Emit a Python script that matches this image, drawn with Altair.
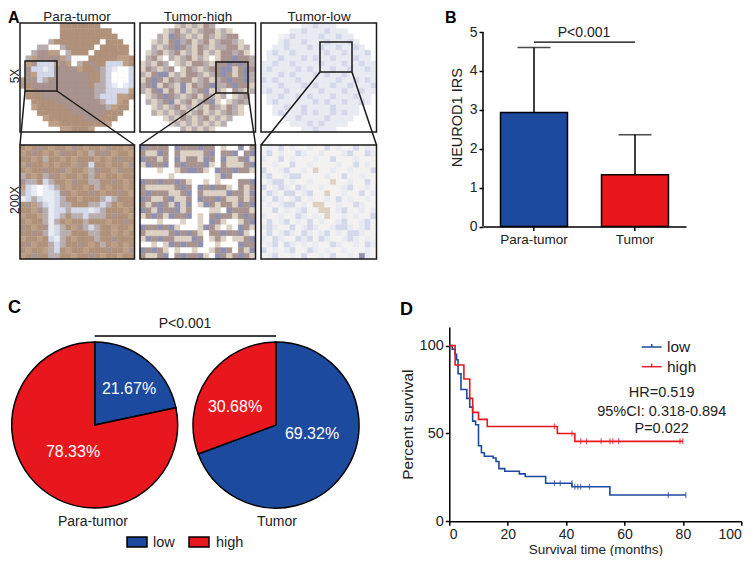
import math
import pandas as pd
import altair as alt

BLUE = "#1c4a9e"
RED = "#e8171d"
INK = "#222222"

# --- panel B
B_GROUPS = ["Para-tumor", "Tumor"]
B_MEANS = [2.93, 1.33]
B_UPPER = [4.6, 2.36]
B_TICKS = [0, 1, 2, 3, 4, 5]

# --- panel C
C_GROUPS = ["Para-tumor", "Para-tumor", "Tumor", "Tumor"]
C_LEVELS = ["low", "high", "low", "high"]
C_SHARES = [21.67, 78.33, 69.32, 30.68]

# --- panel D, Kaplan-Meier steps
LOW_T = [0, 1, 2, 2.5, 3, 4, 6, 7, 8, 9, 10, 11, 12, 15, 16, 17, 19, 24, 26, 33, 42, 55, 81]
LOW_S = [100, 98, 95, 92, 84, 75, 70, 65, 57, 55, 43, 39, 37, 36, 34, 30, 28.5, 27, 25.5, 21.7, 19.7, 15, 15]
HIGH_T = [0, 2, 5, 7, 8, 10, 13, 37, 43, 80]
HIGH_S = [100, 89, 81, 70, 62, 58, 54, 50, 45.5, 45.5]
LOW_CENS_T = [36, 38, 42, 43, 44, 45, 48, 75, 81]
LOW_CENS_S = [21.7, 21.7, 21.7, 19.7, 19.7, 19.7, 19.7, 15, 15]
HIGH_CENS_T = [36, 42, 45, 47, 52, 55, 56, 58, 79, 80]
HIGH_CENS_S = [54, 50, 45.5, 45.5, 45.5, 45.5, 45.5, 45.5, 45.5, 45.5]

# --- panel A, coarse hand-read colour mosaics of the micrographs
PALETTE = {
    ".": "#ffffff", "w": "#f4f2f0", "b": "#b0917a", "d": "#bd9f85", "m": "#a8938f",
    "v": "#8f90b0", "p": "#d3d8ea", "q": "#e9ebf3", "t": "#dcd1c3", "g": "#b8aeb0",
}
TILE_1 = ["______.bbbbbbb______", "_____..bbbbbbbbb____", "____...bbbbbbbbbb___", "___..gbbbbbbbb.bbb__",
          "__.gg..gbbbbb.bbbbb_", "__gmmdd.gbbb.bbbbbb_", "_gdmmmmdg...bbbbbddb", "_dmpppdmd.gbmbbpppdb",
          "_mppqpmmmmdbbmgpq..p", "_mdpppmmmmmmbbgp...p", "dmmpgmmmmmmmbbgp...p", "dbmmmmmmmmmmbggpq.qp",
          "_bbmmmmmmmmmmggppppd", "_bbbmmmmmmmmmgpppddb", "__bbbbmmmmmmmmgppdb_", "__dbbbbbmmmmmmmgdbb_",
          "___bbbbbbmmmmmmbbb__", "____dbbbbbbmmmbbb___", "_____ddbbbbbbbbd____", "_______ddbbbd_______"]
TILE_2 = ["______tgtgtmg_______", "____tgmtgtgmmtgt____", "___gtvmgtgtmgtgmm___", "__tgtmvgmtgmtgmmgt__",
          "__gtgmvmgtmgtggmmtg_", "_tgmtgmtgtmtgtmmgmt_", "_gmt.gtgmtgt.tmmvmmg", "tgtmg.tgtmmgtmmvmvmg",
          "tmgtgm.tmgtgmmvvtmvm", "gtmvvtgtmmgtgmvmtmvg", "tmvmtmgmmtgmtgmvmmvg", "gmvtmgtvtmgmvggmvmmt",
          "gtmvtmtvtgmvtgt.mgtg", "_tgmvmgtgmtmgtg.tgm_", "_gtgmvtgmtgmvt.tgmg_", "__tgtgmtgtgtmgtmgt__",
          "__gtgtgmtgmtgtgmgt__", "____tgtmgtgmtgtg____", "_____tgtgtgtgtg_____", "_______gtgtgt_______"]
TILE_3 = ["_______qqpqqq_______", "_____qqpqqqpqqq_____", "___wqpqqqqpqqpqq____", "___qpqqpqqqpqqqpq___",
          "__qqpqqqpqpqqpqqpq__", "_qpqqpqqqqqpqqpqqqp_", "_qqpqqqpqpqqpqqqpqq_", "qqpqqpqqqqpqqqpqqpqq",
          "qpqqqqpqpqqqpqqpqqpq", "qqqpqpqqqpqpqqpqqqqq", "pqpqqqpqqqqqqpqqpqpq", "qqqpqqqpqpqqpqqpqqqp",
          "qpqqpqqqqqpqqqpqqpqq", "_qqpqqpqpqqqpqqqpqq_", "_qpqqqqqqpqpqqpqqpq_", "__qqpqqpqqqqpqqqq___",
          "__qpqqqpqpqqpqpqq___", "____qqpqqqqpqqqq____", "_____qqqpqpqqqq_____", "_______qqpqqq_______"]
TILE_4 = ["bdbmbdbbdmbdbbdmbbdb", "dbmbdbdmbbdbgbmbdbbd", "bbdbgbbdbdbbbdbdbmbb", "dmbbdbdbbdmbpbbdbbdm",
          "bdbbmbbmdbbdgmbbdmbb", "gbdbgmbdbbdbgbdbbdbb", "mggbpgbbdmbbggbbmbdb", "dpq.qpgbdbbdbgbdbbdb",
          "gpq.qqpmbdbbmbdbbmbd", "qpgpqqpgbbdbbbgpgbbb", "bmdgpqpggbbbggpgbdbb", "bbdmgqppgpppqpgbbbdb",
          "dbbdgqpgbggpgggbmbbd", "bdbbgqgbdbbgbbbdbbmb", "mbdbmqpgbdmgpgbbdbbd", "bbmbgqpggbbbggbbdbdb",
          "dbbdbpqgbdbbbgbbmbbb", "bmdbbgpgbbmbdbgbdbdb", "bdbbdgpbdbbdbbbmbbdm", "dbmbbggbbdbbmbdbbdbb"]
TILE_5 = ["vmmmm.vmmmvmm.t..v.m", "mttvm.mttttmv.mmv.mv", "vmmtm.vtmmtvm.vttmvt", "tvmmv.mvmmmvt.mtttmv",
          "...t..tmvvmt.vmmvmmt", ".....t.......tvm....", "vmmvmmvmt..t.t...mmv", "mtttttmvm.vmvmmt.mtm",
          "mvmmmttmv.mttttvmmtv", "vmttmvttm.vmmvmttmtm", "mtmvmtvtv.tvmtmmtvmv", "vmtvmmvtm...tt.vmmmt",
          "tmvmtvmmv.t.mvmmtmvm", "...t...t..t.vmt..tmv", "vmmvmvt...tvmt.t.vmt", "mttttmvmvmt.mmvmmvt.",
          "tvmvmmtttvm.tmt.ttmv", "..t.tvmvmmv..t...vmm", "vmvmt.t..t..tmvm.mtv", "mttmv.mvmmvt.vmtmvmt"]
TILE_6 = ["wqwpwqwwqwwpwqwwpwqw", "wpwqwwpqwwqwwwqpwwpq", "qwwpwqwwwqwwpwwwqwww", "wwqwwpwwqwwwwqwwpwqw",
          "pwwqpwwqwtwwqwwqwwwp", "qpwwqppwwwwqwwpwwqww", "wqppwqwwqwwwtwwqwwpw", "pwqpqwpqwwqwwwqpwwqw",
          "wpqwppwqpwwtwwqwwpwq", "qwpqwqpwqwwqwpwqwwqw", "wqwqppwqwttwwqwwpqww", "wwpwqwqpwwttwqpwwqwq",
          "qwwqwwpqwqwtwwqwqwwp", "wpwqpwqwpwqwwqpwwqpw", "qpqwwpwqpqwwqppqwqpw", "wpwqpqwpqwqpwqwppqww",
          "qwpqwwpqpwpqwwqpqwqw", "wqpwpqwqwqwwpqwwqwpq", "pwqwqpwwpqwqwwqwwwqw", "wqpwwqwpwwqwpwwqwvqw"]
TILES = [TILE_1, TILE_2, TILE_3, TILE_4, TILE_5, TILE_6]
TILE_COLS = [(20, 134.5), (140, 255.5), (261, 376.5)]
TILE_ROWS = [(23, 132), (145, 259)]
DISC_X = [79, 197.5, 318.5]
DISC_Y = [77.5, 77.5, 77.5]
DISC_R = 53
DISC_COLORS = ["d", "t", "q"]
INSET_X = [(25, 57), (216, 248), (320, 352)]
INSET_Y = [(61, 91), (62, 93), (42, 72)]


def note(text, px, py, origin, size=14, color=INK, align="center", weight="normal", angle=0):
    """Text at a page position, given the page position of the view's top left corner."""
    return alt.Chart(pd.DataFrame({"label": [text]})).mark_text(
        fontSize=size, color=color, align=align, baseline="alphabetic", fontWeight=weight, angle=angle
    ).encode(text="label:N", x=alt.value(px - origin[0]), y=alt.value(py - origin[1]))


def key_box(x0, x1, y0, y1, origin, color):
    return alt.Chart(pd.DataFrame({"k": [0]})).mark_rect(fill=color, stroke="black", strokeWidth=1.5).encode(
        x=alt.value(x0 - origin[0]), x2=alt.value(x1 - origin[0]),
        y=alt.value(y0 - origin[1]), y2=alt.value(y1 - origin[1]),
    )


def key_line(x0, x1, y0, y1, origin, color):
    return alt.Chart(pd.DataFrame({"k": [0]})).mark_rule(color=color, strokeWidth=1.5).encode(
        x=alt.value(x0 - origin[0]), x2=alt.value(x1 - origin[0]),
        y=alt.value(y0 - origin[1]), y2=alt.value(y1 - origin[1]),
    )


# ---------- A
A_ORIGIN = (8, 8)
A_W, A_H = 377, 254
ax = alt.Scale(domain=[8, 8 + A_W])
ay = alt.Scale(domain=[8 + A_H, 8])
cells = []
for t, rows in enumerate(TILES):
    x0, x1 = TILE_COLS[t % 3]
    y0, y1 = TILE_ROWS[t // 3]
    ch = (y1 - y0) / len(rows)
    cw = (x1 - x0) / len(rows[0])
    for j, row in enumerate(rows):
        for i, c in enumerate(row):
            if c != "_":
                cells.append(dict(x0=x0 + i * cw, x1=x0 + (i + 1) * cw, y0=y0 + j * ch, y1=y0 + (j + 1) * ch, c=c))
cells = pd.DataFrame(cells)
tone = alt.Scale(domain=list(PALETTE.keys()), range=list(PALETTE.values()))

discs = alt.Chart(pd.DataFrame({"x": DISC_X, "y": DISC_Y, "c": DISC_COLORS})).mark_circle(
    opacity=1, size=math.pi * DISC_R ** 2
).encode(
    x=alt.X("x:Q", scale=ax, axis=None), y=alt.Y("y:Q", scale=ay, axis=None),
    color=alt.Color("c:N", scale=tone, legend=None),
)
mosaic = alt.Chart(cells).mark_rect(strokeWidth=0.4).encode(
    x=alt.X("x0:Q", scale=ax, axis=None), x2="x1:Q",
    y=alt.Y("y0:Q", scale=ay, axis=None), y2="y1:Q",
    color=alt.Color("c:N", scale=tone, legend=None),
    stroke=alt.Stroke("c:N", scale=tone, legend=None),
)
frames = pd.DataFrame(
    [dict(x0=c[0], x1=c[1], y0=r[0], y1=r[1]) for r in TILE_ROWS for c in TILE_COLS]
    + [dict(x0=a[0], x1=a[1], y0=b[0], y1=b[1]) for a, b in zip(INSET_X, INSET_Y)]
)
frame_marks = alt.Chart(frames).mark_rect(filled=False, stroke="#1a1a1a", strokeWidth=1.5).encode(
    x=alt.X("x0:Q", scale=ax, axis=None), x2="x1:Q",
    y=alt.Y("y0:Q", scale=ay, axis=None), y2="y1:Q",
)
links = []
for k in range(3):
    for side in (0, 1):
        links.append(dict(x0=INSET_X[k][side], y0=INSET_Y[k][1],
                          x1=TILE_COLS[k][side], y1=TILE_ROWS[1][0]))
link_marks = alt.Chart(pd.DataFrame(links)).mark_rule(stroke="#1a1a1a", strokeWidth=1.5).encode(
    x=alt.X("x0:Q", scale=ax, axis=None), x2="x1:Q",
    y=alt.Y("y0:Q", scale=ay, axis=None), y2="y1:Q",
)
panel_a = alt.layer(
    discs, mosaic, link_marks, frame_marks,
    note("A", 8, 22.5, A_ORIGIN, size=16, color="black", align="left", weight="bold"),
    note("Para-tumor", 77, 20.5, A_ORIGIN, size=13.5),
    note("Tumor-high", 198, 20.5, A_ORIGIN, size=13.5),
    note("Tumor-low", 319, 20.5, A_ORIGIN, size=13.5),
    note("5X", 19, 76, A_ORIGIN, size=12, angle=270),
    note("200X", 19, 200, A_ORIGIN, size=12, angle=270),
).resolve_scale(color="independent", stroke="independent").properties(width=A_W, height=A_H)

# ---------- B, shares its left edge with D, so the axis sits inside the view
B_ORIGIN = (449.3, 8)
B_AXIS_X = 483 - 449.3
B_W, B_H = 292, 218.5
b_df = pd.DataFrame({"group": B_GROUPS, "mean": B_MEANS, "upper": B_UPPER})
bx = alt.X("group:N", sort=B_GROUPS, title=None,
           scale=alt.Scale(paddingInner=0.337, paddingOuter=0.1735, range=[B_AXIS_X, B_AXIS_X + 203]),
           axis=alt.Axis(labelAngle=0, labelFontSize=13.5, labelPadding=2, tickSize=4))
by = alt.Scale(domain=[0, 5 * B_H / 194.5], nice=False)
bars = alt.Chart(b_df).mark_bar(stroke="black", strokeWidth=1.5).encode(
    x=bx,
    y=alt.Y("mean:Q", scale=by, title="NEUROD1 IRS",
            axis=alt.Axis(values=B_TICKS, domain=False, labelFontSize=14, tickSize=4, titleFontSize=14.5,
                          titleFontWeight="normal", titlePadding=5, offset=-B_AXIS_X)),
    color=alt.Color("group:N", scale=alt.Scale(domain=B_GROUPS, range=[BLUE, RED]), legend=None),
)
stems = alt.Chart(b_df).mark_rule(color="black", strokeWidth=1.5).encode(x=bx, y=alt.Y("mean:Q", scale=by), y2="upper:Q")
caps = alt.Chart(b_df).mark_tick(color="black", size=33, thickness=1.5).encode(x=bx, y=alt.Y("upper:Q", scale=by))
y_line = alt.Chart(pd.DataFrame({"a": [0], "b": [5]})).mark_rule(color="black", strokeWidth=1.5).encode(
    x=alt.value(B_AXIS_X), y=alt.Y("a:Q", scale=by), y2="b:Q"
)
sig = alt.Chart(pd.DataFrame({"group": B_GROUPS, "level": [4.74, 4.74]})).mark_line(color="black", strokeWidth=1.2).encode(
    x=bx, y=alt.Y("level:Q", scale=by)
)
panel_b = alt.layer(
    stems, caps, bars, y_line, sig,
    note("P<0.001", 584, 37, B_ORIGIN, size=14),
    note("B", 445, 22.5, B_ORIGIN, size=16, color="black", align="left", weight="bold"),
).properties(width=B_W, height=B_H)

# ---------- C
C_ORIGIN = (8, 327)
PIE_Y = 425 - 327
c_df = pd.DataFrame({"group": C_GROUPS, "level": C_LEVELS, "share": C_SHARES,
                     "rank": [0, 1, 0, 1]})
level_color = alt.Scale(domain=["low", "high"], range=[BLUE, RED])


def pie(group, cx):
    return alt.Chart(c_df[c_df["group"] == group]).mark_arc(
        outerRadius=83, stroke="black", strokeWidth=1.5
    ).encode(
        theta=alt.Theta("share:Q", stack=True, scale=alt.Scale(domain=[0, 100])),
        order=alt.Order("rank:Q"),
        color=alt.Color("level:N", scale=level_color, legend=None),
        x=alt.value(cx), y=alt.value(PIE_Y),
    )


panel_c = alt.layer(
    pie("Para-tumor", 94.7 - 8),
    pie("Tumor", 276 - 8),
    key_line(94.7, 276, 336, 336, C_ORIGIN, "black"),
    note("P<0.001", 185, 328, C_ORIGIN),
    note("21.67%", 129, 394, C_ORIGIN, size=16, color="white"),
    note("78.33%", 73, 457, C_ORIGIN, size=16, color="white"),
    note("30.68%", 235, 412, C_ORIGIN, size=16, color="white"),
    note("69.32%", 312, 439, C_ORIGIN, size=16, color="white"),
    note("Para-tumor", 93, 526, C_ORIGIN),
    note("Tumor", 277, 526, C_ORIGIN),
    key_box(127, 147, 537, 547, C_ORIGIN, BLUE),
    key_box(189, 209, 537, 547, C_ORIGIN, RED),
    note("low", 153, 547, C_ORIGIN, size=14.5, align="left"),
    note("high", 216, 547, C_ORIGIN, size=14.5, align="left"),
    note("C", 8, 313, C_ORIGIN, size=18, color="black", align="left", weight="bold"),
).properties(width=377, height=194)

# ---------- D
D_ORIGIN = (449.3, 327)
curves = pd.concat([
    pd.DataFrame({"t": LOW_T, "s": LOW_S, "arm": "low"}),
    pd.DataFrame({"t": HIGH_T, "s": HIGH_S, "arm": "high"}),
])
marks = pd.concat([
    pd.DataFrame({"t": LOW_CENS_T, "s": LOW_CENS_S, "arm": "low"}),
    pd.DataFrame({"t": HIGH_CENS_T, "s": HIGH_CENS_S, "arm": "high"}),
])
D_RED = "#e8202a"
arm_color = alt.Scale(domain=["low", "high"], range=[BLUE, D_RED])
dx = alt.X("t:Q", scale=alt.Scale(domain=[0, 100], nice=False), title="Survival time (months)",
           axis=alt.Axis(values=[0, 20, 40, 60, 80, 100], labelFontSize=14, tickSize=4, labelPadding=2,
                         titleFontSize=13.5, titleFontWeight="normal", titlePadding=1))
dy = alt.Y("s:Q", scale=alt.Scale(domain=[0, 110.6], nice=False), title="Percent survival",
           axis=alt.Axis(values=[0, 50, 100], labelFontSize=14.5, tickSize=4, titleFontSize=15.5,
                         titleFontWeight="normal", titlePadding=4))
d_lines = alt.Chart(curves).mark_line(interpolate="step-after", strokeWidth=1.6).encode(
    x=dx, y=dy, color=alt.Color("arm:N", scale=arm_color, legend=None),
)
d_marks = alt.Chart(marks).mark_tick(size=6, thickness=1.2, orient="vertical").encode(
    x=dx, y=dy, color=alt.Color("arm:N", scale=arm_color, legend=None)
)
panel_d = alt.layer(
    d_lines, d_marks,
    key_line(641.7, 661.7, 347, 347, D_ORIGIN, BLUE),
    key_line(651.7, 651.7, 344, 347, D_ORIGIN, BLUE),
    key_line(641.7, 661.7, 366.7, 366.7, D_ORIGIN, D_RED),
    key_line(651.7, 651.7, 363.7, 366.7, D_ORIGIN, D_RED),
    note("low", 667, 352, D_ORIGIN, size=15.5, align="left"),
    note("high", 667, 371.7, D_ORIGIN, size=15.5, align="left"),
    note("HR=0.519", 661.7, 397, D_ORIGIN, size=14.5),
    note("95%CI: 0.318-0.894", 661.7, 415.7, D_ORIGIN, size=14.5),
    note("P=0.022", 661.7, 433, D_ORIGIN, size=14.5),
    note("D", 400, 315, D_ORIGIN, size=18, color="black", align="left", weight="bold"),
).properties(width=292, height=194.3)

chart = (
    alt.concat(panel_a, panel_b, panel_c, panel_d, columns=2, bounds="flush",
               spacing={"row": 65, "column": 64.3})
    .properties(padding=0, background="white")
    .configure(font="Liberation Sans")
    .configure_view(stroke=None)
    .configure_axis(grid=False, domainColor="black", domainWidth=1.5, tickColor="black", tickWidth=1.5,
                    labelColor=INK, titleColor=INK)
)
chart.save("out.html", embed_options={"renderer": "svg", "actions": False})
